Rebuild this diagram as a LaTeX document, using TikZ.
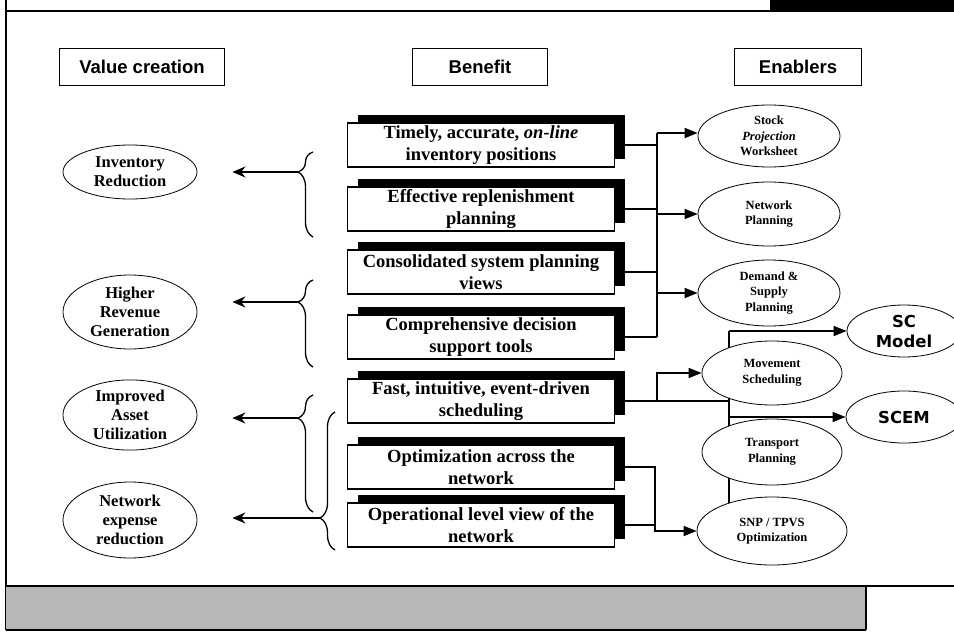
\documentclass[tikz,border=0pt]{standalone}
\usepackage{fontspec}
\setmainfont{Liberation Serif}
\setsansfont{Liberation Sans}
\newfontfamily\heavyfont{DejaVu Sans}
\usetikzlibrary{shapes.geometric,arrows.meta,decorations.pathreplacing,shadows,backgrounds}

\tikzset{
  headbox/.style={draw,line width=1.2pt,minimum height=37pt,inner sep=0pt,
    font=\sffamily\bfseries\fontsize{18.5}{20}\selectfont},
  benefit/.style={draw,fill=white,line width=1.6pt,minimum width=267pt,minimum height=44pt,
    inner sep=0pt,align=center,font=\bfseries\fontsize{18.5}{22.5}\selectfont,
    general shadow={fill=black,shadow xshift=10pt,shadow yshift=8pt}},
  value/.style={ellipse,draw,fill=white,line width=0.8pt,inner sep=0pt,minimum width=134pt,
    align=center,font=\bfseries\fontsize{16.5}{19}\selectfont},
  enabler/.style={ellipse,draw,fill=white,line width=0.8pt,inner sep=0pt,minimum width=142pt,
    align=center,font=\bfseries\fontsize{12.5}{15.5}\selectfont},
  sysnode/.style={ellipse,draw,fill=white,line width=0.8pt,inner sep=0pt,
    align=center,font=\heavyfont\bfseries\fontsize{16.5}{20}\selectfont},
  link/.style={line width=1.6pt},
  toenab/.style={link,-{Triangle[length=13pt,width=10pt]}},
  toval/.style={line width=1.4pt,-{Stealth[length=13pt,width=11pt]},shorten >=35pt},
  curly/.style={line width=1.3pt,decorate,decoration={brace,amplitude=15pt,aspect=#1}},
}

\begin{document}
\begin{tikzpicture}[x=1pt,y=-1pt]
\clip (0,0) rectangle (954,632);
% frame and bottom band
\draw[line width=1.4pt] (6,0) -- (6,630);
\draw[line width=1.2pt] (6,11) -- (770,11);
\fill (770,0) rectangle (954,12);
\fill[black!28] (6,586) rectangle (866,630);
\draw[line width=1.4pt] (6,586) -- (954,586);
\draw[line width=1.4pt] (866,586) -- (866,630);
\draw[line width=2pt] (6,630) -- (866,630);

% column headings
\node[headbox,minimum width=165pt] (hval) at (142,67) {Value creation};
\node[headbox,minimum width=135pt] (hben) at (480,67) {Benefit};
\node[headbox,minimum width=127pt] (henb) at (798,67) {Enablers};

% benefits
\node[benefit] (b1) at (481,145) {Timely, accurate, \textit{on-line}\\inventory positions};
\node[benefit] (b2) at (481,209) {Effective replenishment\\planning};
\node[benefit] (b3) at (481,272) {Consolidated system planning\\views};
\node[benefit] (b4) at (481,337) {Comprehensive decision\\support tools};
\node[benefit] (b5) at (481,401) {Fast, intuitive, event-driven\\scheduling};
\node[benefit] (b6) at (481,467) {Optimization across the\\network};
\node[benefit] (b7) at (481,525) {Operational level view of the\\network};

% value creation
\node[value,minimum height=54pt] (inv) at (130,172) {Inventory\\Reduction};
\node[value,minimum height=74pt] (rev) at (130,312) {Higher\\Revenue\\Generation};
\node[value,minimum height=66pt] (asset) at (130,415) {Improved\\Asset\\Utilization};
\node[value,minimum height=76pt] (cost) at (130,520) {Network\\expense\\reduction};

% enablers
\node[enabler,minimum height=62pt] (spw) at (769,136) {Stock\\\textit{Projection}\\Worksheet};
\node[enabler,minimum height=64pt] (netp) at (769,214) {Network\\Planning};
\node[enabler,minimum height=66pt] (dsp) at (769,293) {Demand \&\\Supply\\Planning};
\node[enabler,minimum width=140pt,minimum height=64pt] (move) at (772,373) {Movement\\Scheduling};
\node[enabler,minimum width=140pt,minimum height=66pt] (trans) at (772,452) {Transport\\Planning};
\node[enabler,minimum width=150pt,minimum height=68pt] (snp) at (772,531) {SNP / TPVS\\Optimization};
\node[sysnode,minimum width=114pt,minimum height=52pt] (scm) at (904,331) {SC\\Model};
\node[sysnode,minimum width=116pt,minimum height=52pt] (scem) at (904,417) {SCEM};

% braces and arrows to value creation
\draw[curly=0.765] (313,237) -- (313,152);
\draw[curly=0.747] (313,367) -- (313,280);
\draw[curly=0.803] (313,512) -- (313,395);
\draw[curly=0.232] (335,550) -- (335,412);
\coordinate (br1) at (298,172);
\coordinate (br2) at (298,302);
\coordinate (br3) at (298,418);
\coordinate (br4) at (320,518);
\draw[toval] (br1) -- (br1 -| inv.east);
\draw[toval] (br2) -- (br2 -| rev.east);
\draw[toval] (br3) -- (br3 -| asset.east);
\draw[toval] (br4) -- (br4 -| cost.east);

% links to enablers
\begin{scope}[on background layer]
\coordinate (bus) at (657,133);
\coordinate (vl) at (729,331);
\coordinate (jn) at (655,467);
\draw[link] (bus) -- (bus |- b4.east);
\foreach \b in {b1,b2,b3,b4}
  \draw[link] (\b.east) -- (\b.east -| bus);
\draw[toenab] (bus) -- (bus -| spw.west);
\draw[toenab] (netp.west -| bus) -- (netp.west);
\draw[toenab] (dsp.west -| bus) -- (dsp.west);
\draw[link] (b5.east) -- (b5.east -| vl);
\draw[toenab] (b5.east -| bus) |- (move.west);
\draw[link] (vl) -- (vl |- snp.west);
\draw[toenab] (vl) -- (scm.west);
\draw[toenab] (scem.west -| vl) -- (scem.west);
\draw[toenab] (b6.east) -- (jn) |- (snp.west);
\draw[link] (b7.east) -| (jn |- snp.west);
\end{scope}
\end{tikzpicture}
\end{document}
